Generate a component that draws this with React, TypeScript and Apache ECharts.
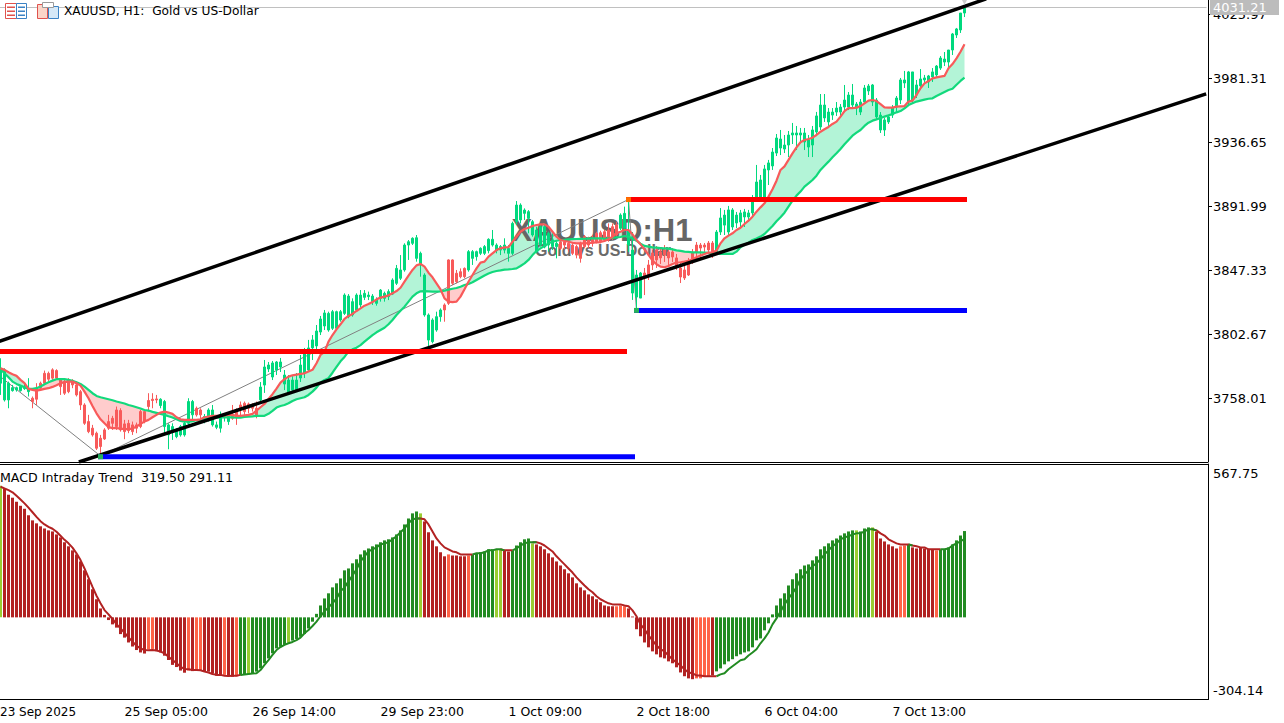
import React, { useEffect, useRef } from "react";
import * as echarts from "echarts";

// [open, close, low, high] per hourly bar
const ohlc: number[][] = [
  [3768.7,3779.1,3760.5,3786.1],[3757,3778,3755.9,3779.1],[3757,3768.7,3751.2,3769.8],[3763.5,3765.6,3762.8,3767.5],[3764,3765.6,3762.8,3766.3],
  [3763.5,3766.3,3762.8,3767.5],[3764.9,3766.3,3764,3768.2],[3762.8,3765.2,3759.4,3772.2],[3758.2,3755.9,3751.2,3759.4],[3765.2,3757.5,3753.5,3768.7],
  [3768.7,3765.2,3764,3769.8],[3775.6,3768.7,3767.5,3777.5],[3775.6,3771.5,3769.8,3776.8],[3778,3772.2,3771,3779.1],[3777.5,3772.2,3771,3778.4],
  [3771,3766.3,3760.5,3772.2],[3769.8,3761.7,3760.5,3771],[3771,3762.8,3761.7,3772.2],[3769.8,3767.5,3765.2,3771.5],[3767.5,3760.5,3759.4,3769.8],
  [3762.8,3753.5,3750,3764],[3753.5,3740.7,3739.6,3754.7],[3741.9,3734.9,3733.8,3746.6],[3737.3,3732.6,3731.4,3739.6],[3733.8,3723.3,3722.1,3734.9],
  [3730.3,3724.5,3718.6,3732.6],[3736.1,3729.8,3729.1,3737.3],[3741.9,3737.3,3736.1,3746.6],[3744.2,3740.7,3736.1,3745.9],[3750,3738.4,3736.1,3752.4],
  [3749.6,3736.1,3734.9,3751.2],[3740.3,3734.9,3729.6,3743.1],[3740.7,3735.6,3733.8,3743.1],[3739.6,3734.9,3732.6,3741.9],[3739.6,3737.3,3733.8,3741.2],
  [3748.9,3738.4,3737.3,3750],[3748.9,3741.9,3740.7,3750],[3756.6,3752.4,3748.9,3761.7],[3757.5,3756.6,3751.2,3761.7],[3757.7,3757,3754.7,3760.5],
  [3753.1,3757.5,3751.2,3758.2],[3738.4,3755.9,3733.8,3757],[3732.6,3739.6,3722.6,3740.7],[3734.9,3738.4,3729.1,3740.7],[3731.4,3736.1,3730.3,3737.3],
  [3732.6,3738.4,3731.4,3739.6],[3732.6,3740.7,3731.4,3743.1],[3740.7,3755.9,3738.4,3758.2],[3746.6,3755.9,3743.1,3757],[3751.2,3746.6,3745.4,3752.4],
  [3750,3746.6,3744.2,3751.2],[3743.1,3745.4,3740.7,3747.2],[3743.1,3750,3741.9,3751.2],[3739.6,3750,3738.4,3753.5],[3737.9,3739.6,3736.6,3741.9],
  [3737.3,3746.6,3734.2,3748.9],[3744.9,3746.6,3741.9,3747.7],[3741.9,3745.4,3739.6,3746.6],[3746.6,3744.2,3743.1,3753.5],[3750,3745.4,3739.6,3751.2],
  [3753.5,3751.2,3745.4,3755.9],[3754.7,3748.9,3746.6,3755.9],[3754.2,3751.2,3747.7,3755.2],[3753.5,3751.2,3748.9,3754.7],[3751.2,3745.9,3744.2,3755.9],
  [3757,3766,3755.6,3769.5],[3767.4,3780,3761.9,3784.9],[3778.6,3781.4,3776.5,3783.5],[3773,3782.8,3770.9,3784.2],[3777.9,3783.5,3774.4,3784.2],
  [3780,3783.5,3776.5,3786.3],[3768.1,3774.4,3763.9,3777.9],[3761.9,3770.9,3760.5,3774.4],[3763.9,3770.9,3762.6,3773.6],[3763.9,3770.9,3762.6,3775.8],
  [3772.3,3781.4,3769.5,3788.4],[3775.8,3789.8,3772.3,3793.3],[3777.9,3793.3,3776.5,3798.9],[3793.3,3798.9,3784.9,3802.3],[3794.7,3805.1,3791.9,3809.3],
  [3804.4,3813.5,3802.3,3815.6],[3808.6,3817.7,3805.8,3819.8],[3805.8,3817.4,3804.6,3818.6],[3807,3818.6,3805.8,3819.8],[3807,3818.6,3806.3,3819.3],
  [3812.8,3818.6,3811.6,3819.8],[3817.4,3830.2,3816.3,3831.4],[3815.1,3829.5,3814,3830.9],[3816.3,3825.6,3815.1,3827.9],[3819.8,3830.2,3818.6,3831.4],
  [3823.3,3830.2,3821.6,3833.7],[3828.6,3831.4,3826.7,3833.7],[3829.1,3830.2,3826.7,3832.6],[3825.6,3829.5,3823.3,3830.9],[3824.4,3826.7,3822.8,3828.6],
  [3827.9,3833.7,3825.6,3834.4],[3827.9,3831.4,3825.6,3832.6],[3829.1,3832.6,3826.7,3834.2],[3830.9,3840.7,3830.2,3841.9],[3838.4,3848.8,3837.2,3851.2],
  [3841.9,3847.7,3840.7,3858.1],[3847.7,3865.1,3846.5,3866.3],[3865.1,3867.4,3854.7,3868.6],[3866.3,3869.8,3865.1,3870.5],[3855.8,3870.2,3853.5,3872.1],
  [3851.2,3859.3,3843,3860.5],[3816.3,3844.2,3815.1,3845.4],[3798.8,3816.3,3793.7,3817.4],[3797.7,3812.8,3796.5,3814],[3805.8,3815.1,3804.6,3818.6],
  [3815.1,3819.8,3811.6,3820.9],[3823.3,3819.8,3811.6,3824.4],[3854.7,3824.4,3823.3,3855.1],[3854.7,3838.4,3837.2,3855.1],[3845.4,3839.5,3838.4,3847.7],
  [3846.5,3843,3841.9,3848.8],[3848.8,3843,3841.9,3849.5],[3847.7,3860.5,3846.5,3861.6],[3855.8,3860.5,3851.2,3861.6],[3857,3860.5,3854.2,3861.2],
  [3859.3,3862.8,3858.1,3863.5],[3859.3,3864,3858.1,3865.1],[3861.2,3869.1,3859.3,3869.8],[3865.1,3869.1,3864,3875.6],[3861.2,3865.1,3859.3,3866.3],
  [3861.6,3864,3858.1,3865.1],[3861.6,3865.1,3859.3,3869.8],[3859.3,3862.8,3853.5,3865.1],[3859.3,3880.2,3858.1,3881.4],[3881.4,3893,3879.1,3895.8],
  [3882.6,3893,3880.2,3894.2],[3887.2,3889.5,3882.6,3890.7],[3883.7,3888.4,3873.3,3889.5],[3872.1,3881.4,3870.9,3882.6],[3860.5,3875.6,3859.3,3877.9],
  [3865.1,3877.9,3864,3879.1],[3865.1,3877.9,3862.8,3880.2],[3865.1,3873.3,3860.5,3874.4],[3864,3868.6,3861.6,3873.3],[3864,3866.3,3855.8,3868.6],
  [3867.4,3862.8,3861.6,3868.6],[3867.4,3865.1,3862.1,3868.6],[3866.3,3862.8,3860.5,3867.4],[3865.1,3859.3,3858.1,3866.3],[3864,3858.1,3855.8,3865.1],
  [3866.3,3855.8,3852.8,3867.4],[3870.9,3864,3862.8,3872.1],[3869.8,3865.1,3862.8,3870.9],[3869.8,3866.3,3864,3872.1],[3873.3,3867.4,3866.3,3874.4],
  [3873.7,3867.4,3866.3,3875.1],[3874.4,3868.6,3867.4,3875.6],[3875.6,3868.6,3867.4,3880.2],[3877.9,3869.8,3868.6,3880.2],[3879.1,3872.1,3870.9,3881.4],
  [3876.8,3886,3875.6,3887.2],[3876.8,3887.2,3874.4,3891.9],[3865.1,3874.9,3860.3,3896.5],[3831.6,3861.6,3826.8,3874.2],[3828.8,3844.2,3819.8,3847.7],
  [3828.1,3845.6,3828.1,3846.3],[3845.6,3842.8,3830.2,3849.1],[3851.2,3844.2,3840.7,3854.7],[3859.6,3851.2,3847.7,3861.7],[3861.7,3854.7,3849.1,3864.4],
  [3860.3,3856.1,3851.9,3863],[3861.7,3858.2,3853.3,3865.1],[3860.3,3856.1,3851.2,3863],[3860.3,3856.8,3853.3,3863],[3856.1,3849.8,3847.7,3858.9],
  [3849.1,3842.8,3838.6,3852.6],[3847.7,3842.1,3840.7,3850.5],[3853.3,3844.2,3843.5,3856.1],[3859.6,3853.3,3851.9,3862.3],[3865.1,3860.3,3854.7,3867.2],
  [3865.1,3863,3856.1,3866.5],[3865.1,3863.7,3860.3,3866.5],[3866.5,3861.7,3858.9,3867.9],[3866.5,3860.3,3856.1,3867.9],[3860.3,3874.2,3858.9,3875.6],
  [3874.2,3884,3872.1,3890.9],[3879,3886,3872.1,3889.6],[3874.2,3889.6,3871.4,3892.4],[3877.7,3889.6,3875.6,3890.9],[3880.5,3886,3877,3888.2],
  [3881.2,3887.5,3877.7,3889.6],[3884.7,3888.2,3877.7,3890.3],[3884.7,3887.5,3881.2,3889.6],[3887.5,3895.1,3885.4,3900],[3898.6,3909.1,3896.5,3921],
  [3898.6,3910.5,3896.5,3914],[3898.6,3918.2,3896.5,3921],[3917.5,3922.4,3907,3924.5],[3920.3,3930,3917.5,3932.8],[3929.3,3939.8,3927.2,3942.6],
  [3932.8,3939.1,3927.9,3945.4],[3932.1,3934.9,3929.3,3941.9],[3934.9,3941.9,3926.5,3944.7],[3941.9,3943.3,3935.6,3950.3],[3941.9,3943.3,3931.4,3948.2],
  [3941.9,3943.3,3936.3,3946.8],[3937,3943.3,3931.4,3946.8],[3933.5,3938.4,3926.5,3941.9],[3934.9,3945.4,3926.5,3948.2],[3944,3955.2,3941.2,3958],
  [3947.5,3962.8,3945.4,3970.5],[3953.8,3962.8,3951,3970.5],[3951,3957.9,3948.2,3960.7],[3955.8,3957.9,3952.4,3960.7],[3957.9,3960.7,3955.2,3964.9],
  [3957.9,3961.4,3953.8,3963.5],[3961.4,3966.3,3957.9,3976.8],[3961.4,3969.8,3959.3,3971.9],[3962.8,3969.8,3960.7,3977.5],[3960.7,3963.5,3955.8,3964.9],
  [3957.9,3964.9,3955.8,3967],[3964.9,3974.7,3963.5,3976.8],[3972.6,3976.1,3969.8,3977.5],[3964.9,3976.8,3962.1,3977.5],[3954.5,3966.3,3952.4,3967.7],
  [3945.4,3955.8,3943.3,3957.9],[3945.4,3952.4,3941.2,3953.8],[3951,3954.5,3949.6,3955.8],[3955.8,3960.7,3953.8,3962.8],[3961.4,3967.7,3957.9,3969.1],
  [3966.3,3980.3,3963.5,3981.7],[3978.2,3980.3,3974.7,3986.6],[3964.9,3985.9,3962.1,3986.6],[3966.3,3985.9,3964.2,3985.9],[3969.8,3976.8,3967.7,3980.3],
  [3976.1,3981,3973.3,3987.9],[3980.3,3981.7,3977.5,3983.8],[3978.9,3983.1,3974.7,3983.8],[3982.4,3985.9,3978.9,3988.6],[3983.8,3990,3981.7,3990.7],
  [3988.6,3995.6,3987.3,3997],[3992.8,3994.9,3990,3999.8],[3992.8,4001.2,3988.6,4001.2],[4001.2,4012.4,3997.7,4013.1],[4011.7,4015.9,4009.6,4016.6],
  [4015.2,4027,4013.1,4027],[4027,4031.21,4024.2,4031.9],
];

const fastLine: number[] = [
  3779.1,3778,3776.3,3774.9,3773.8,3771,3768.7,3764.7,3764,3763.5,
  3764,3764.7,3765.2,3766.1,3767.3,3768.7,3769.4,3769.8,3769.8,3768.7,
  3767,3762.8,3758.2,3752.8,3747.7,3743.5,3740.7,3738,3737.3,3737.3,
  3737,3736.6,3736.6,3737,3738.4,3740.3,3741.9,3743.1,3744.9,3746.6,
  3748.2,3748.9,3748.2,3747.3,3744.9,3743.5,3743.1,3743.1,3743.1,3743.1,
  3743.5,3744.9,3745.4,3745.9,3745.9,3745.9,3746.3,3746.6,3746.6,3745.9,
  3745.9,3746.3,3746.6,3747.3,3749.6,3751.9,3754.2,3757.7,3761,3764.9,
  3769.1,3771.5,3773.3,3774.2,3774.7,3775.2,3775.6,3776.8,3778,3782.6,
  3788.4,3790.5,3797.7,3802.3,3806.3,3809.8,3813.5,3815.6,3817,3819.1,
  3820.9,3822.8,3823.9,3825.3,3827.2,3828.4,3829.1,3830,3831.4,3833,
  3835.3,3839.5,3843.7,3847.7,3850.9,3851.9,3850,3845.8,3842.6,3838.4,
  3834.2,3827.9,3825.6,3825.3,3825.6,3829.1,3834.2,3839.5,3844.2,3848.8,
  3852.8,3853.5,3857,3859.3,3861.6,3862.8,3863.5,3863.7,3867.4,3870.9,
  3874.4,3876.3,3877.2,3878.4,3879.1,3879.5,3879.5,3877.9,3874.4,3870.9,
  3868.6,3867.9,3867.4,3866.7,3866.3,3866.3,3866.3,3866.5,3866.7,3867,
  3867.2,3867.9,3869.1,3870.9,3873.3,3874.4,3875.6,3875.6,3872.6,3868.6,
  3865.6,3862.1,3858.2,3854.2,3851.7,3850,3849.6,3850.5,3851.9,3852.8,
  3853.1,3853.5,3854,3855.2,3856.6,3857.7,3858.9,3859.8,3860,3861.2,
  3866.3,3869.8,3871.7,3873.3,3875.6,3877.2,3879.8,3882.1,3884.9,3888.4,
  3891.4,3894.2,3898.9,3904,3910,3917.5,3920,3924.5,3929.1,3933.3,
  3936.8,3938.4,3939.1,3940,3941.9,3944.2,3945.9,3947.5,3949.6,3951.2,
  3954.7,3958.6,3960.7,3960.7,3961,3962.1,3964,3965.9,3966.3,3965.6,
  3963.5,3961.2,3961,3961,3961.7,3961.9,3962.1,3965.2,3965.9,3969.8,
  3974.5,3977.9,3979.6,3981.4,3982.1,3982.6,3983.1,3988.4,3991.4,3995.4,
  4000,4005.2,
];

const slowLine: number[] = [
  3778.4,3775.6,3772.8,3769.8,3768.2,3767,3765.9,3764.7,3764.7,3765.2,
  3766.3,3768,3769.4,3770.5,3771.5,3771.5,3771.5,3771,3770.3,3769.4,
  3768.2,3766.3,3764,3761.7,3759.8,3758.9,3758.2,3757.5,3756.8,3755.9,
  3755.2,3754.5,3753.5,3752.8,3751.9,3751,3750,3749.6,3748.7,3748,
  3747.3,3746.6,3745.6,3744.7,3743.5,3742.4,3741.9,3741.9,3742.1,3742.8,
  3743.1,3743.5,3744,3744.5,3744.7,3744.9,3744.9,3744.9,3744.9,3744.7,
  3744.7,3745.2,3745.4,3745.6,3745.9,3745.9,3745.9,3747.3,3749.4,3751.7,
  3752.8,3753.5,3754.7,3756.3,3757.5,3758.2,3758.9,3760.5,3762.8,3765.6,
  3769.1,3771,3772.2,3776,3780,3784,3787,3790.7,3792.3,3793.5,
  3795.3,3797.7,3800,3802.3,3804.2,3805.8,3807.4,3809.8,3812.8,3816.3,
  3819.3,3822.1,3825.6,3829.1,3831.4,3832.8,3833,3832.8,3832.6,3832.6,
  3832.8,3833.3,3834,3834.6,3835.1,3836,3837.2,3837.9,3839.1,3840.7,
  3842.3,3843.9,3845.3,3846.3,3847,3847.4,3847.9,3848.1,3848.4,3848.8,
  3850.5,3852.3,3854.7,3858.1,3860.9,3862.8,3864.4,3866.3,3867.4,3868.1,
  3868.6,3868.8,3869.1,3869.2,3869.3,3869.4,3869.5,3869.6,3869.7,3869.7,
  3869.7,3869.5,3869.8,3870.2,3870.5,3870.7,3871.4,3870.9,3869.8,3868.1,
  3866,3864.5,3864,3863.5,3863.3,3863,3862.8,3862.6,3862.1,3861.4,
  3861,3860.5,3860.3,3860,3860,3860,3859.8,3859.6,3859.3,3859.1,
  3858.9,3858.9,3858.9,3858.9,3860.5,3863.5,3865.2,3866.8,3868.6,3869.6,
  3871,3872.8,3875.6,3878.4,3881.7,3884.5,3887.7,3891.9,3896.1,3899.6,
  3902.4,3905.9,3908.2,3910.5,3913.5,3917.5,3920.5,3923.3,3926.3,3929.1,
  3932.1,3935.4,3938.4,3941.4,3943.5,3945.4,3948.2,3950.5,3951.9,3952.8,
  3953.8,3954.7,3955.6,3956.6,3957.7,3958.6,3960.5,3962.8,3964,3965.2,
  3965.9,3966.6,3967.2,3967.5,3969.1,3970.5,3971.9,3973.3,3974.2,3977,
  3979.6,3981.9,
];

const macdHist: number[] = [
  487,476,454,443,428,413,402,378,359,348,
  337,329,322,318,307,296,278,263,248,233,
  207,174,141,104,67,33,9,-10,-26,-38,
  -62,-75,-93,-108,-121,-130,-134,-118,-117,-125,
  -130,-142,-158,-176,-184,-197,-205,-197,-199,-195,
  -196,-200,-201,-207,-216,-216,-213,-218,-220,-218,
  -215,-213,-211,-207,-201,-189,-170,-152,-133,-115,
  -109,-102,-94,-86,-80,-72,-62,-41,-16,13,
  44,70,89,111,126,144,174,181,200,215,
  233,248,255,263,270,278,285,289,296,307,
  322,344,366,385,392,385,355,315,285,263,
  241,226,233,229,229,226,226,229,233,237,
  241,244,252,252,252,252,248,244,248,266,
  278,289,292,274,270,263,252,237,222,207,
  192,178,163,148,126,111,100,85,78,67,
  56,44,41,41,41,44,41,33,3,-44,
  -70,-93,-111,-126,-137,-148,-152,-163,-170,-185,
  -204,-218,-226,-229,-226,-226,-218,-218,-215,-200,
  -189,-174,-163,-155,-144,-137,-130,-126,-111,-85,
  -78,-48,-22,11,44,70,89,118,141,163,
  178,192,196,211,226,252,263,274,285,292,
  303,311,318,322,322,318,329,333,333,318,
  292,281,270,263,255,263,266,270,259,255,
  259,255,252,252,248,252,252,259,270,285,
  303,319.5,
];

const macdSignal: number[] = [
  484,477,471,463,450,436,422,406,389,372,
  356,344,335,328,317,302,287,274,258,237,
  212,181,147,113,80,52,27,11,-6,-25,
  -41,-57,-74,-90,-105,-115,-121,-122,-121,-123,
  -127,-133,-146,-158,-170,-183,-191,-192,-195,-195,
  -196,-201,-204,-210,-213,-213,-216,-217,-216,-216,
  -213,-212,-210,-208,-207,-195,-176,-158,-139,-121,
  -110,-102,-96,-91,-84,-75,-59,-47,-32,-16,
  4,22,37,52,70,96,111,133,155,178,
  207,226,244,252,259,270,274,278,289,300,
  315,329,348,363,366,366,363,344,318,292,
  274,259,252,244,241,233,233,233,233,237,
  237,241,248,248,252,252,248,248,248,255,
  266,274,278,278,278,274,266,255,244,226,
  211,196,181,166,148,133,118,104,93,78,
  67,59,52,48,48,48,44,41,26,4,
  -26,-44,-67,-85,-104,-118,-126,-141,-155,-167,
  -178,-192,-204,-207,-215,-215,-218,-218,-218,-218,
  -211,-207,-192,-181,-170,-159,-155,-141,-130,-118,
  -96,-78,-56,-26,-4,22,48,70,89,111,
  141,159,174,189,200,215,233,248,263,274,
  289,296,300,307,311,311,318,326,326,322,
  311,303,289,281,274,270,270,270,266,263,
  259,259,252,252,252,252,252,255,266,274,
  281,291.11,
];

const tomatoBars = [37,38,47,49,50,56,59,112,117,154,155,156,174,175,176,177,225,226,234];
const limeBars = [0,62,72,105,124,125,133,214,218];
const greenRuns = [[60,104],[118,125],[128,133],[179,218],[227,227],[235,241]];

const firstTimeLabel = "23 Sep 2025";
const timeTickIndex = [31,63,95,127,159,191,223];
const timeTickLabels = ["25 Sep 05:00","26 Sep 14:00","29 Sep 23:00","1 Oct 09:00","2 Oct 18:00","6 Oct 04:00","7 Oct 13:00"];
const priceTicks = [3758.01,3802.67,3847.33,3891.99,3936.65,3981.31,4025.97];
const macdTicks = [-304.14,567.75];
const lastPrice = 4031.21;

const upperChannel = [[0,3798.2],[246,4036.5]];
const lowerChannel = [[20,3714.1],[301,3970.2]];
const zigzag = [[0,3773.2],[25,3717.9],[157,3896.9],[159,3819.5]];
const resistanceOld = [[0,3790.8],[156,3790.8]];
const supportOld = [[25,3717.4],[158,3717.4]];
const resistanceNew = [[157,3896.8],[241,3896.8]];
const supportNew = [[159,3819.5],[241,3819.5]];

const FONT = "DejaVu Sans";
const categories = Array.from({ length: 302 }, (_, i) => {
  const k = timeTickIndex.indexOf(i);
  return k >= 0 ? timeTickLabels[k] : "";
});
const isGreen = (i: number) => greenRuns.some(([a, b]) => i >= a && i <= b);
const barColor = (i: number) =>
  limeBars.includes(i) ? "#9acd32" : tomatoBars.includes(i) ? "#ff6347" : isGreen(i) ? "#228b22" : "#b22222";

const cloudBase = fastLine.map((f, i) => Math.min(f, slowLine[i]));
const cloudUp = fastLine.map((f, i) => Math.max(f - slowLine[i], 0));
const cloudDown = fastLine.map((f, i) => Math.max(slowLine[i] - f, 0));
const signalGreen = macdSignal.map((v, i) => (isGreen(i) || (i > 0 && isGreen(i - 1)) ? v : null));
const signalRed = macdSignal.map((v, i) => (!isGreen(i) || (i < 241 && !isGreen(i + 1)) || (i > 0 && !isGreen(i - 1)) ? v : null));

const twoPoint = (data: number[][], color: string, width: number, z: number) => ({
  type: "line", xAxisIndex: 0, yAxisIndex: 0, data, symbol: "none", z, silent: true,
  lineStyle: { color, width, cap: "square" },
});
const stackArea = (data: number[], color: string | null) => ({
  type: "line", xAxisIndex: 0, yAxisIndex: 0, data, stack: "cloud", symbol: "none", z: 1, silent: true,
  lineStyle: { width: 0, opacity: 0 },
  areaStyle: color ? { color, opacity: 1 } : undefined,
});

const icons = [
  { type: "rect", shape: { x: 5.5, y: 3.5, width: 11, height: 15 }, style: { fill: "#fff", stroke: "#e0524d" }, z: 50 },
  { type: "rect", shape: { x: 16.5, y: 3.5, width: 10, height: 15 }, style: { fill: "#fff", stroke: "#3b82c4" }, z: 50 },
  ...[6.5, 10.5, 14.5].flatMap((y) => [
    { type: "rect", shape: { x: 7, y, width: 8, height: 1.5 }, style: { fill: "#e0524d" }, z: 51 },
    { type: "rect", shape: { x: 18, y, width: 7, height: 1.5 }, style: { fill: "#3b82c4" }, z: 51 },
  ]),
  { type: "rect", shape: { x: 37.5, y: 4.5, width: 10, height: 14 }, style: { fill: "#fbd5c8", stroke: "#e0524d" }, z: 50 },
  { type: "rect", shape: { x: 48.5, y: 6.5, width: 10, height: 12 }, style: { fill: "#d5e8f7", stroke: "#3b82c4" }, z: 50 },
  { type: "rect", shape: { x: 42.5, y: 2.5, width: 11, height: 5 }, style: { fill: "#fff", stroke: "#9a9a9a" }, z: 52 },
];

export default function App() {
  const ref = useRef<HTMLDivElement>(null);
  useEffect(() => {
    const chart = echarts.init(ref.current!, null, { renderer: "svg" });
    chart.setOption({
      animation: false,
      backgroundColor: "#ffffff",
      grid: [
        { left: -1.5, top: 0, width: 1208, height: 462, outerBoundsMode: "none" },
        { left: -1.5, top: 464, width: 1208, height: 235.5, outerBoundsMode: "none" },
      ],
      xAxis: [
        { type: "category", gridIndex: 0, data: categories, show: false },
        {
          type: "category", gridIndex: 1, data: categories,
          axisLine: { onZero: false, lineStyle: { color: "#000", width: 1 } },
          axisTick: { length: 4, alignWithLabel: true, interval: (i: number) => timeTickIndex.includes(i), lineStyle: { color: "#000" } },
          axisLabel: { interval: 0, align: "left", margin: 5, color: "#000", fontFamily: FONT, fontSize: 12.5, hideOverlap: false },
          splitLine: { show: false },
        },
      ],
      yAxis: [
        {
          type: "value", gridIndex: 0, position: "right", offset: 1.5, min: 3713.7, max: 4036.1, scale: true,
          axisLine: { show: true, lineStyle: { color: "#000", width: 1 } },
          axisTick: { show: true, length: 4, customValues: priceTicks, lineStyle: { color: "#000" } },
          axisLabel: { customValues: priceTicks, formatter: (v: number) => v.toFixed(2), margin: 5, color: "#000", fontFamily: FONT, fontSize: 13 },
          splitLine: { show: false },
        },
        {
          type: "value", gridIndex: 1, position: "right", offset: 1.5, min: -304.14, max: 567.75, scale: true,
          axisLine: { show: true, lineStyle: { color: "#000", width: 1 } },
          axisTick: { show: false },
          axisLabel: {
            customValues: macdTicks, formatter: (v: number) => v.toFixed(2), margin: 5, color: "#000", fontFamily: FONT, fontSize: 13,
            verticalAlignMaxLabel: "top", verticalAlignMinLabel: "bottom", padding: [3, 0, 3, 0],
          },
          splitLine: { show: false },
        },
      ],
      series: [
        stackArea(cloudBase, null),
        stackArea(cloudUp, "#b3f4d7"),
        stackArea(cloudDown, "#ffcccc"),
        twoPoint(zigzag, "#808080", 1, 2),
        {
          type: "candlestick", xAxisIndex: 0, yAxisIndex: 0, data: ohlc, barWidth: 2, z: 3, silent: true,
          itemStyle: { color: "#00d97e", color0: "#f85a5a", borderColor: "#00d97e", borderColor0: "#f85a5a", borderWidth: 1 },
        },
        {
          type: "line", xAxisIndex: 0, yAxisIndex: 0, data: slowLine, symbol: "none", z: 4, silent: true,
          lineStyle: { color: "#12d97c", width: 2.2 },
        },
        {
          type: "line", xAxisIndex: 0, yAxisIndex: 0, data: fastLine, symbol: "none", z: 4, silent: true,
          lineStyle: { color: "#f85a5a", width: 2.2 },
        },
        twoPoint(upperChannel, "#000000", 3.5, 5),
        twoPoint(lowerChannel, "#000000", 3.5, 5),
        twoPoint(resistanceOld, "#ff0000", 5, 6),
        twoPoint(supportOld, "#0000ff", 5, 6),
        twoPoint(resistanceNew, "#ff0000", 5, 6),
        twoPoint(supportNew, "#0000ff", 5, 6),
        {
          type: "scatter", xAxisIndex: 0, yAxisIndex: 0, symbol: "rect", symbolSize: 5, z: 7, silent: true,
          data: [
            { value: [157, 3896.8], itemStyle: { color: "#ff8c00" } },
            { value: [159, 3819.5], itemStyle: { color: "#32dd32" } },
            { value: [25, 3717.4], itemStyle: { color: "#32dd32" } },
          ],
        },
        {
          type: "scatter", xAxisIndex: 0, yAxisIndex: 0, symbol: "triangle", symbolRotate: 180, symbolSize: 6, z: 7, silent: true,
          data: [[241, 4034.7]], itemStyle: { color: "#c0c0c0" },
        },
        {
          type: "line", xAxisIndex: 0, yAxisIndex: 0, data: [], z: 1, silent: true,
          markLine: {
            silent: true, symbol: "none", label: { show: false }, animation: false,
            lineStyle: { color: "#c0c0c0", width: 1, type: "solid" },
            data: [{ yAxis: lastPrice }],
          },
        },
        {
          type: "bar", xAxisIndex: 1, yAxisIndex: 1, barWidth: 3, z: 2, silent: true,
          data: macdHist.map((v, i) => ({ value: v, itemStyle: { color: barColor(i) } })),
        },
        {
          type: "line", xAxisIndex: 1, yAxisIndex: 1, data: signalRed, symbol: "none", z: 3, silent: true,
          lineStyle: { color: "#b22222", width: 2 },
        },
        {
          type: "line", xAxisIndex: 1, yAxisIndex: 1, data: signalGreen, symbol: "none", z: 3, silent: true,
          lineStyle: { color: "#228b22", width: 2 },
        },
      ],
      graphic: [
        { type: "line", z: 40, shape: { x1: 0, y1: 462.5, x2: 1208, y2: 462.5 }, style: { stroke: "#000", lineWidth: 1 } },
        { type: "line", z: 40, shape: { x1: 0, y1: 464.5, x2: 1208, y2: 464.5 }, style: { stroke: "#000", lineWidth: 1 } },
        { type: "line", z: 40, shape: { x1: 1206, y1: 699.5, x2: 1208.5, y2: 699.5 }, style: { stroke: "#000", lineWidth: 1 } },
        { type: "text", z: 2, x: 602, y: 230, style: { text: "XAUUSD:H1", fill: "#666666", font: "bold 31px 'Liberation Sans'", align: "center", verticalAlign: "middle" } },
        { type: "text", z: 2, x: 603, y: 250, style: { text: "Gold vs US-Dollar", fill: "#6a6a6a", font: "bold 16px 'Liberation Sans'", align: "center", verticalAlign: "middle" } },
        ...icons,
        { type: "text", z: 50, x: 64, y: 11, style: { text: "XAUUSD, H1:\u00a0\u00a0Gold vs US-Dollar", fill: "#000", font: `12.2px '${FONT}'`, verticalAlign: "middle" } },
        { type: "text", z: 50, x: 0, y: 477, style: { text: "MACD Intraday Trend\u00a0\u00a0319.50 291.11", fill: "#000", font: `12.6px '${FONT}'`, verticalAlign: "middle" } },
        { type: "text", z: 50, x: 0, y: 711.5, style: { text: firstTimeLabel, fill: "#000", font: `12px '${FONT}'`, verticalAlign: "middle" } },
        { type: "rect", z: 60, shape: { x: 1210, y: 0, width: 69, height: 15 }, style: { fill: "#bcbcbc" } },
        { type: "text", z: 61, x: 1213, y: 7.5, style: { text: "4031.21", fill: "#fff", font: `13px '${FONT}'`, verticalAlign: "middle" } },
      ],
    });
    return () => chart.dispose();
  }, []);
  return <div ref={ref} style={{ position: "fixed", left: 0, top: 0, width: 1284, height: 723 }} />;
}
